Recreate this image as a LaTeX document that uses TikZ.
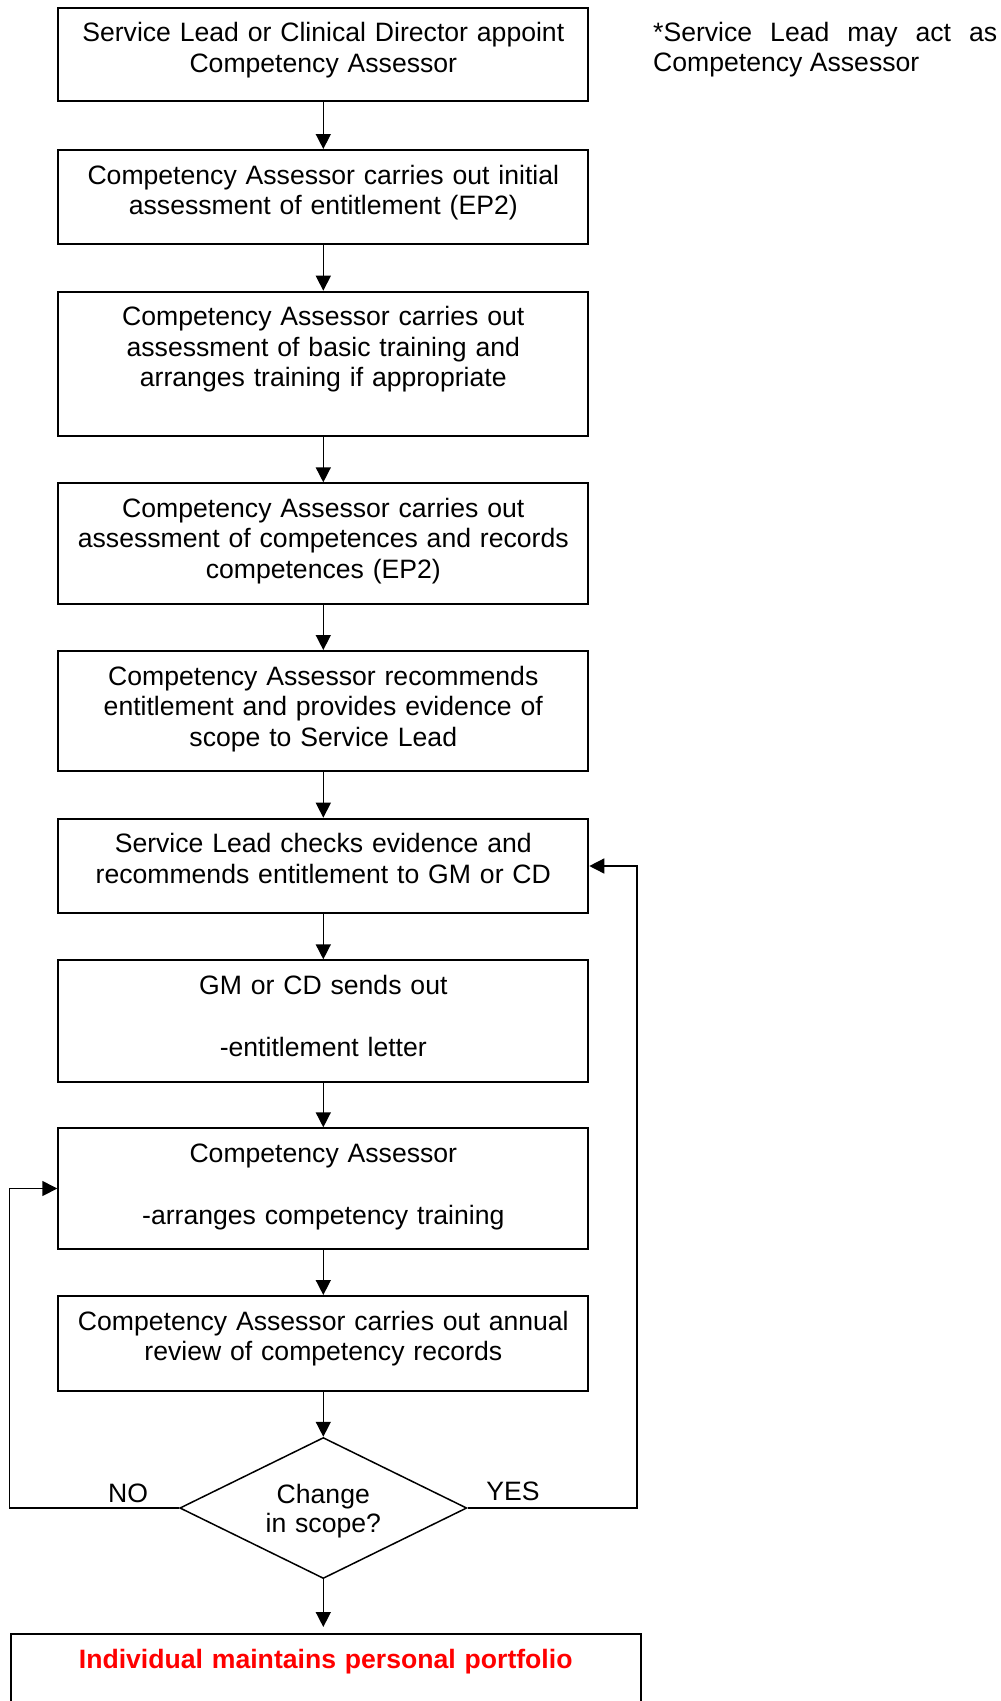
\documentclass[tikz,border=0pt]{standalone}
\usepackage{fontspec}
\setmainfont{Liberation Sans}
\usepackage{xcolor}
\usetikzlibrary{shapes.geometric, arrows.meta}
\usetikzlibrary{positioning}
\newcommand{\flowfont}{\fontsize{26.6pt}{30.5pt}\selectfont}
\tikzset{procbox/.style={rectangle, draw=black, line width=2pt, minimum width=530pt, text width=500pt, inner xsep=15pt, inner ysep=12pt, text height=22pt, text depth=#1, align=center, anchor=north, font=\flowfont}}
\tikzstyle{decision} = [diamond, aspect=2, draw=black, line width=1.5pt, minimum width=287pt, minimum height=141pt, inner sep=0pt, text width=150pt, text height=22pt, text depth=31pt, align=center, font=\fontsize{26.6pt}{29pt}\selectfont]
\tikzstyle{arrow} = [line width=1.5pt, -{Triangle[length=15pt, width=15pt]}]
\tikzstyle{lbl} = [inner sep=0pt, font=\flowfont]

\begin{document}
\begin{tikzpicture}[x=1pt, y=-1pt]
                        \useasboundingbox (0,0) rectangle (1001,1701);
                        % main column of steps
                        \node[procbox=47pt] (appoint) at (323.3,6.5) {Service Lead or Clinical Director appoint\\Competency Assessor};
                        \node[procbox=47.5pt] (initial) at (323.3,149) {Competency Assessor carries out initial\\assessment of entitlement (EP2)};
                        \node[procbox=98.3pt] (basic) at (323.3,290.7) {Competency Assessor carries out\\assessment of basic training and\\arranges training if appropriate};
                        \node[procbox=74.4pt] (records) at (323.3,482.3) {Competency Assessor carries out\\assessment of competences and records\\competences (EP2)};
                        \node[procbox=74pt] (recommend) at (323.3,650) {Competency Assessor recommends\\entitlement and provides evidence of\\scope to Service Lead};
                        \node[procbox=48.6pt] (check) at (323.3,817.7) {Service Lead checks evidence and\\recommends entitlement to GM or CD};
                        \node[procbox=75.7pt] (letter) at (323.3,959.3) {GM or CD sends out\\[32pt]-entitlement letter};
                        \node[procbox=74.4pt] (training) at (323.3,1127.3) {Competency Assessor\\[32pt]-arranges competency training};
                        \node[procbox=49pt] (review) at (323.3,1295) {Competency Assessor carries out annual\\review of competency records};
                        \node[decision] (scope) at (323.3,1508) {Change\\in scope?};
                        \node[procbox=110pt, minimum width=630pt, text width=600pt, text=red, font=\flowfont\bfseries] (portfolio) at (325.7,1633) {Individual maintains personal portfolio};
                        % side note
                        \node[anchor=base west, inner sep=0pt, text width=344pt, align=justify, font=\flowfont] (note) at (653,41) {*Service Lead may act as Competency Assessor};
                        % connectors
                        \draw[arrow] (appoint.south) -- (initial.north);
                        \draw[arrow] (initial.south) -- (basic.north);
                        \draw[arrow] (basic.south) -- (records.north);
                        \draw[arrow] (records.south) -- (recommend.north);
                        \draw[arrow] (recommend.south) -- (check.north);
                        \draw[arrow] (check.south) -- (letter.north);
                        \draw[arrow] (letter.south) -- (training.north);
                        \draw[arrow] (training.south) -- (review.north);
                        \draw[arrow] (review.south) -- (scope.north);
                        \draw[arrow, shorten >=6pt] (scope.south) -- (scope.south |- portfolio.north);
                        % loops back
                        \coordinate (nocorner) at (9.5,1508);
                        \coordinate (yescorner) at (637,1508);
                        \draw[arrow] (scope.west) -- (nocorner) |- (training.west);
                        \draw[arrow] (scope.east) -- (yescorner) |- (check.east);
                        \node[lbl] (nolbl) at (128,1493) {NO};
                        \node[lbl] (yeslbl) at (513,1491) {YES};
                    \end{tikzpicture}
\end{document}
